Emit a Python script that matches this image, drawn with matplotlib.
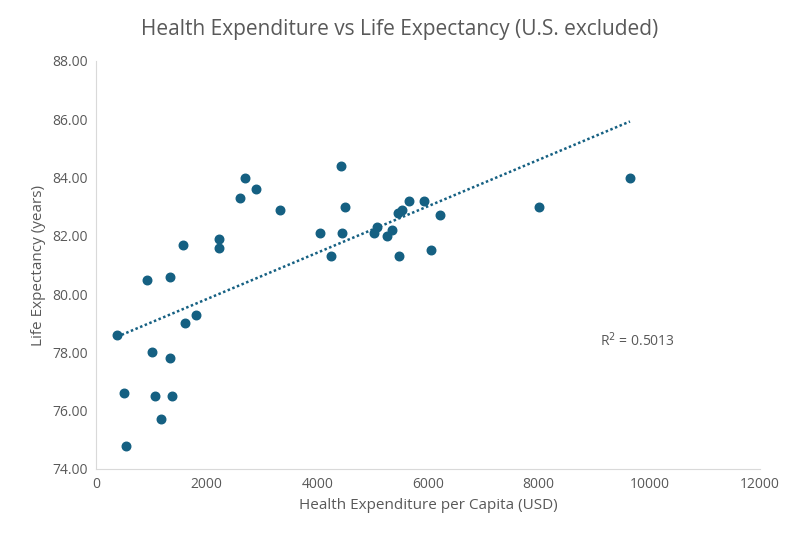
import numpy as np
import matplotlib.pyplot as plt
from matplotlib.ticker import FormatStrFormatter

plt.rcParams['font.family'] = ['Open Sans', 'DejaVu Sans']

spend = [380, 500, 550, 920, 1020, 1060, 1180, 1330, 1330, 1370, 1570, 1600, 1800,
         2220, 2220, 2600, 2700, 2900, 3330, 4050, 4250, 4420, 4450, 4500, 5020, 5080,
         5250, 5350, 5450, 5480, 5530, 5650, 5920, 6050, 6220, 8000, 9650]
life = [78.6, 76.6, 74.8, 80.5, 78.0, 76.5, 75.7, 80.6, 77.8, 76.5, 81.7, 79.0, 79.3,
        81.9, 81.6, 83.3, 84.0, 83.6, 82.9, 82.1, 81.3, 84.4, 82.1, 83.0, 82.1, 82.3,
        82.0, 82.2, 82.8, 81.3, 82.9, 83.2, 83.2, 81.5, 82.7, 83.0, 84.0]

color = '#156082'
grey = '#595959'

fig = plt.figure(figsize=(7.99, 5.44), dpi=100)
ax = fig.add_axes([96 / 799, 75 / 544, 664 / 799, 408 / 544])

ax.scatter(spend, life, s=38, color=color, zorder=3)

slope, intercept = np.polyfit(spend, life, 1)
xs = np.array([min(spend), max(spend)])
ax.plot(xs, slope * xs + intercept, linestyle=(0, (1, 1)), color=color, linewidth=1.8)
ax.text(9100, 78.4, 'R$^2$ = 0.5013', color=grey, fontsize=10, va='center')

ax.set_xlim(0, 12000)
ax.set_ylim(74, 88)
ax.set_xticks(range(0, 12001, 2000))
ax.set_yticks(range(74, 89, 2))
ax.yaxis.set_major_formatter(FormatStrFormatter('%.2f'))
ax.tick_params(length=0, labelsize=10, colors=grey, pad=6)

for side in ['top', 'right']:
    ax.spines[side].set_visible(False)
for side in ['left', 'bottom']:
    ax.spines[side].set_color('#d9d9d9')

ax.set_xlabel('Health Expenditure per Capita (USD)', fontsize=11, color=grey)
ax.set_ylabel('Life Expectancy (years)', fontsize=11, color=grey)
fig.suptitle('Health Expenditure vs Life Expectancy (U.S. excluded)', fontsize=15,
             color=grey, y=0.965)

fig.savefig('out.png', dpi=100)
